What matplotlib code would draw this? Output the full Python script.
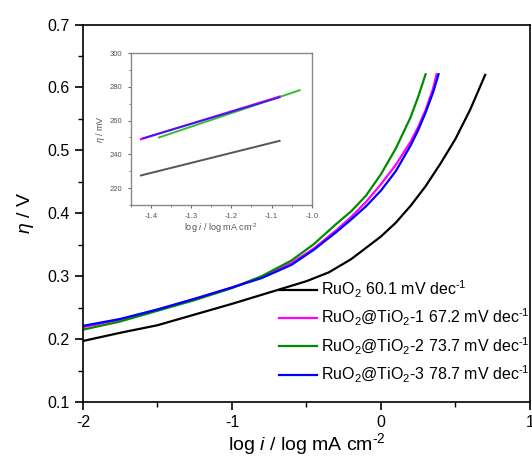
import matplotlib
matplotlib.use("Agg")
import matplotlib.pyplot as plt
from matplotlib.ticker import MultipleLocator

plt.rcParams['font.family'] = ['Liberation Sans', 'DejaVu Sans']
plt.rcParams['mathtext.fontset'] = 'custom'
plt.rcParams['mathtext.rm'] = 'Liberation Sans'
plt.rcParams['mathtext.it'] = 'Liberation Sans:italic'
plt.rcParams['mathtext.default'] = 'regular'

# ---- main Tafel curves (log i, eta / V) ----
x_ruo2 = [-2.0, -1.75, -1.5, -1.25, -1.0, -0.75, -0.5, -0.35, -0.2, -0.1, 0.0, 0.1, 0.2, 0.3, 0.4, 0.5, 0.6, 0.7]
y_ruo2 = [0.197, 0.210, 0.222, 0.239, 0.256, 0.274, 0.292, 0.306, 0.327, 0.345, 0.363, 0.385, 0.412, 0.443, 0.479, 0.518, 0.565, 0.620]

x_t1 = [-2.0, -1.75, -1.5, -1.25, -1.0, -0.8, -0.6, -0.45, -0.3, -0.2, -0.1, 0.0, 0.1, 0.2, 0.25, 0.3, 0.35, 0.374]
y_t1 = [0.219, 0.231, 0.247, 0.264, 0.282, 0.299, 0.321, 0.344, 0.373, 0.394, 0.418, 0.446, 0.477, 0.514, 0.537, 0.564, 0.598, 0.621]

x_t2 = [-2.0, -1.75, -1.5, -1.25, -1.0, -0.8, -0.6, -0.45, -0.3, -0.2, -0.1, 0.0, 0.1, 0.2, 0.25, 0.3]
y_t2 = [0.215, 0.228, 0.245, 0.262, 0.281, 0.300, 0.325, 0.351, 0.383, 0.403, 0.428, 0.462, 0.503, 0.553, 0.585, 0.621]

x_t3 = [-2.0, -1.75, -1.5, -1.25, -1.0, -0.8, -0.6, -0.45, -0.3, -0.2, -0.1, 0.0, 0.1, 0.2, 0.25, 0.3, 0.35, 0.387]
y_t3 = [0.221, 0.232, 0.247, 0.264, 0.282, 0.297, 0.318, 0.342, 0.370, 0.390, 0.411, 0.436, 0.467, 0.508, 0.532, 0.560, 0.592, 0.621]

labels = ["RuO$_2$ 60.1 mV dec$^{\\text{-1}}$",
          "RuO$_2$@TiO$_2$-1 67.2 mV dec$^{\\text{-1}}$",
          "RuO$_2$@TiO$_2$-2 73.7 mV dec$^{\\text{-1}}$",
          "RuO$_2$@TiO$_2$-3 78.7 mV dec$^{\\text{-1}}$"]
colors = ["black", "#ff00ff", "#008c00", "#0000ff"]

# ---- inset linear Tafel fits (log i, eta / mV) ----
ix_ruo2 = [-1.425, -1.08]
iy_ruo2 = [227.5, 248.0]
ix_t1 = [-1.425, -1.08]
iy_t1 = [249.0, 274.2]
ix_t2 = [-1.38, -1.03]
iy_t2 = [250.0, 278.0]
ix_t3 = [-1.42, -1.08]
iy_t3 = [249.5, 273.8]

fig = plt.figure(figsize=(5.32, 4.59), dpi=100)
ax = fig.add_axes([0.156, 0.1242, 0.840, 0.8224])

series = [(x_ruo2, y_ruo2), (x_t1, y_t1), (x_t2, y_t2), (x_t3, y_t3)]
for (xs, ys), c, lab in zip(series, colors, labels):
    ax.plot(xs, ys, color=c, lw=1.6, label=lab, solid_joinstyle='round')

ax.set_xlim(-2, 1)
ax.set_ylim(0.1, 0.7)
ax.set_xticks([-2, -1, 0, 1])
ax.set_xticklabels(["-2", "-1", "0", "1"])
ax.set_yticks([0.1, 0.2, 0.3, 0.4, 0.5, 0.6, 0.7])
ax.set_yticklabels(["0.1", "0.2", "0.3", "0.4", "0.5", "0.6", "0.7"])
ax.xaxis.set_minor_locator(MultipleLocator(0.5))
ax.yaxis.set_minor_locator(MultipleLocator(0.05))
ax.tick_params(which='major', direction='out', length=6, width=1.2, labelsize=11.5, colors='black')
ax.tick_params(which='minor', direction='out', length=3.5, width=1.0)
for s in ax.spines.values():
    s.set_linewidth(1.2)
ax.set_xlabel("log $\\mathit{i}$ / log mA cm$^{\\text{-2}}$", fontsize=14, labelpad=1)
ax.set_ylabel("$\\mathit{\\eta}$ / V", fontsize=14, labelpad=8)

leg = ax.legend(loc='lower right', bbox_to_anchor=(1.0, 0.045), frameon=False,
                fontsize=11.5, handlelength=2.4, handletextpad=0.25,
                labelspacing=0.45, borderaxespad=0.0, borderpad=0.0)

# ---- inset ----
ins = fig.add_axes([0.246, 0.5534, 0.340, 0.331])
ins.plot(ix_ruo2, iy_ruo2, color='#555555', lw=1.4)
ins.plot(ix_t2, iy_t2, color='#33bb33', lw=1.4)
ins.plot(ix_t1, iy_t1, color='#ff00ff', lw=1.6)
ins.plot(ix_t3, iy_t3, color='#2222ee', lw=1.2)
ins.set_xlim(-1.45, -1.0)
ins.set_ylim(210, 300)
ins.set_xticks([-1.4, -1.3, -1.2, -1.1, -1.0])
ins.set_xticklabels(["-1.4", "-1.3", "-1.2", "-1.1", "-1.0"])
ins.set_yticks([220, 240, 260, 280, 300])
ins.xaxis.set_minor_locator(MultipleLocator(0.05))
ins.yaxis.set_minor_locator(MultipleLocator(10))
ins.tick_params(which='major', direction='out', length=2.5, width=0.8, labelsize=5.5,
                colors='#666666', labelcolor='#555555')
ins.tick_params(which='minor', direction='out', length=1.5, width=0.6, colors='#666666')
for s in ins.spines.values():
    s.set_color('#888888')
    s.set_linewidth(1.0)
ins.set_xlabel("log $\\mathit{i}$ / log mA cm$^{\\text{-2}}$", fontsize=6.5, color='#555555', labelpad=1)
ins.set_ylabel("$\\mathit{\\eta}$ / mV", fontsize=6.5, color='#555555', labelpad=2)

fig.savefig("out.png", dpi=100)
